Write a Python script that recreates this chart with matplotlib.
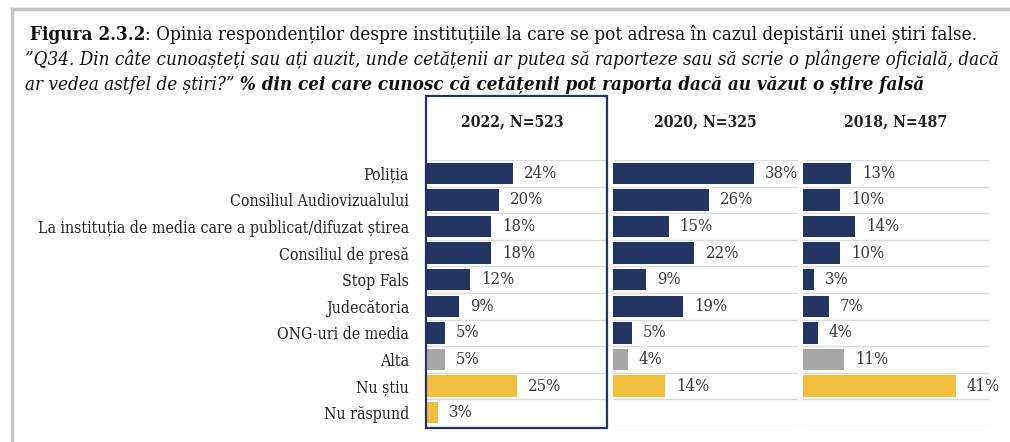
import matplotlib
matplotlib.use("Agg")
import matplotlib.pyplot as plt
from matplotlib.patches import Rectangle
from matplotlib.lines import Line2D

# ---------------- data ----------------
categories = ["Poliția", "Consiliul Audiovizualului",
              "La instituția de media care a publicat/difuzat știrea",
              "Consiliul de presă", "Stop Fals", "Judecătoria",
              "ONG-uri de media", "Alta", "Nu știu", "Nu răspund"]
v2022 = [24, 20, 18, 18, 12, 9, 5, 5, 25, 3]
v2020 = [38, 26, 15, 22, 9, 19, 5, 4, 14, None]
v2018 = [13, 10, 14, 10, 3, 7, 4, 11, 41, None]
panel_titles = ["2022, N=523", "2020, N=325", "2018, N=487"]

title_l1 = [("Figura 2.3.2", "bold", "normal"),
            (": Opinia respondenților despre instituțiile la care se pot adresa în cazul depistării unei știri false.", "normal", "normal")]
title_l2 = [("”Q34. Din câte cunoașteți sau ați auzit, unde cetățenii ar putea să raporteze sau să scrie o plângere oficială, dacă", "normal", "italic")]
title_l3 = [("ar vedea astfel de știri?”", "normal", "italic"),
            (" % din cei care cunosc că cetățenii pot raporta dacă au văzut o știre falsă", "bold", "italic")]

# ---------------- style ----------------
NAVY = "#22345F"
GRAY = "#A6A6A6"
YELLOW = "#F2BF40"
bar_colors = [NAVY] * 7 + [GRAY] + [YELLOW] * 2
FONT = "DejaVu Serif"
STRETCH = "condensed"

W, H = 1010, 442
fig = plt.figure(figsize=(W / 100, H / 100), dpi=100)
fig.patch.set_facecolor("white")
renderer = fig.canvas.get_renderer()


def fx(px):
    return px / W


def fy(py):
    return 1 - py / H


def fkw(wt="normal", st="normal"):
    return dict(family=FONT, fontweight=wt, fontstyle=st, fontstretch=STRETCH)


def measure(txt, size, wt="normal", st="normal"):
    t = fig.text(0, 0, txt, fontsize=size, **fkw(wt, st))
    w = t.get_window_extent(renderer).width
    t.remove()
    return w


def fit(txt, target_px, wt="normal", st="normal"):
    return 10 * target_px / measure(txt, 10, wt, st)


# image border (light gray frame on top & left)
fig.add_artist(Line2D([fx(12), fx(12)], [fy(9), fy(442)], transform=fig.transFigure,
                      color="#C4C4C4", lw=2.5))
fig.add_artist(Line2D([fx(12), fx(1010)], [fy(9), fy(9)], transform=fig.transFigure,
                      color="#C4C4C4", lw=2.5))


def draw_segs(segs, x0, yb, size, color="#111111"):
    x = x0
    for txt, wt, st in segs:
        t = fig.text(fx(x), fy(yb), txt, fontsize=size, ha="left", va="baseline",
                     color=color, **fkw(wt, st))
        x += t.get_window_extent(renderer).width
    return x


w10 = sum(measure(t, 10, wt, st) for t, wt, st in title_l1)
tsize = 10 * (978 - 30) / w10
draw_segs(title_l1, 30, 40, tsize)
draw_segs(title_l2, 25, 65, tsize)
draw_segs(title_l3, 25, 90, tsize)

# ---------------- panels ----------------
panels = [(427, 606, v2022), (613, 798, v2020), (803, 989, v2018)]
top_px, bot_px = 160, 426
XMAX = 50
n = len(categories)

lsize = fit(categories[2], 372)
vsize = fit("24%", 33)
hsize = fit(panel_titles[0], 103, "bold")

for i, (l, r, vals) in enumerate(panels):
    ax = fig.add_axes([fx(l), fy(bot_px), (r - l) / W, (bot_px - top_px) / H])
    ax.set_xlim(0, XMAX)
    ax.set_ylim(n - 0.5, -0.5)
    for k in range(n + 1):
        ax.axhline(k - 0.5, color="#DCDCDC", lw=1.0, zorder=0)
    ys = [j for j, v in enumerate(vals) if v is not None]
    xs = [vals[j] for j in ys]
    cs = [bar_colors[j] for j in ys]
    ax.barh(ys, xs, height=0.8, color=cs, zorder=2)
    for y, v in zip(ys, xs):
        ax.annotate(f"{v}%", xy=(v, y), xytext=(8, 0), textcoords="offset points",
                    ha="left", va="center", fontsize=vsize, color="#3A3A3A", **fkw())
    for s in ax.spines.values():
        s.set_visible(False)
    ax.set_xticks([])
    if i == 0:
        ax.set_yticks(range(n))
        ax.set_yticklabels(categories, fontsize=lsize, color="#222222", **fkw())
        ax.tick_params(axis="y", length=0, pad=13)
    else:
        ax.set_yticks([])
    cx = (l + r) / 2
    fig.text(fx(cx + (-4 if i == 0 else 0)), fy(122), panel_titles[i], ha="center",
             va="center", fontsize=hsize, color="#222222", **fkw("bold"))

# highlight box around 2022 panel
fig.add_artist(Rectangle((fx(426), fy(428)), (607 - 426) / W, (428 - 96) / H,
                         transform=fig.transFigure, fill=False, edgecolor=NAVY, lw=1.6,
                         zorder=5))

fig.savefig("out.png", dpi=100, facecolor="white")
